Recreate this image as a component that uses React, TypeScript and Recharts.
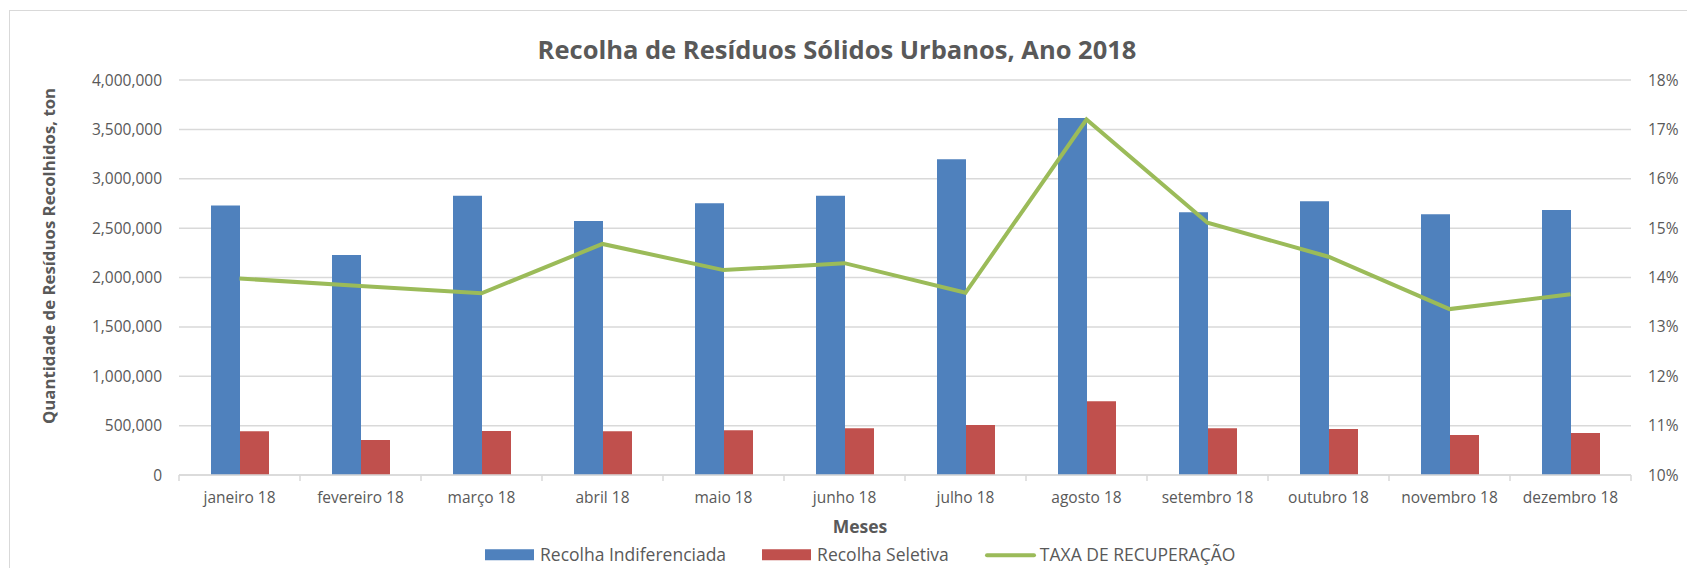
import React from "react";
import {
  ComposedChart,
  Bar,
  Line,
  XAxis,
  YAxis,
  CartesianGrid,
} from "recharts";

const months = [
  "janeiro 18",
  "fevereiro 18",
  "março 18",
  "abril 18",
  "maio 18",
  "junho 18",
  "julho 18",
  "agosto 18",
  "setembro 18",
  "outubro 18",
  "novembro 18",
  "dezembro 18",
];
const indiferenciada = [
  2728000, 2228000, 2829000, 2572000, 2751000, 2829000, 3197000, 3615000,
  2660000, 2771000, 2640000, 2684000,
];
const seletiva = [
  442000, 354000, 446000, 442000, 452000, 473000, 506000, 746000, 473000,
  466000, 405000, 425000,
];
const taxa = [
  13.98, 13.83, 13.68, 14.68, 14.15, 14.29, 13.69, 17.2, 15.11, 14.42, 13.36,
  13.66,
];
const leftTicks = [0, 500000, 1000000, 1500000, 2000000, 2500000, 3000000, 3500000, 4000000];
const rightTicks = [10, 11, 12, 13, 14, 15, 16, 17, 18];

const data = months.map((m, i) => ({
  month: m,
  ind: indiferenciada[i],
  sel: seletiva[i],
  taxa: taxa[i],
}));

const FONT = "'Open Sans', sans-serif";
const TXT = "#595959";
const GRID = "#D9D9D9";
const BLUE = "#4F81BD";
const RED = "#C0504D";
const GREEN = "#9BBB59";

const W = 1687;
const H = 568;
const PLOT_LEFT = 179;
const PLOT_RIGHT = 1631;
const PLOT_TOP = 80;
const PLOT_BOTTOM = 475;
const BAND = (PLOT_RIGHT - PLOT_LEFT) / months.length;

const XTick = (props: any) => {
  const { x, y, payload, index, visibleTicksCount } = props;
  const half = BAND / 2;
  return (
    <g>
      <line x1={x - half} x2={x - half} y1={PLOT_BOTTOM} y2={PLOT_BOTTOM + 6} stroke={GRID} strokeWidth={1.5} />
      {index === visibleTicksCount - 1 ? (
        <line x1={x + half} x2={x + half} y1={PLOT_BOTTOM} y2={PLOT_BOTTOM + 6} stroke={GRID} strokeWidth={1.5} />
      ) : null}
      <text
        x={x}
        y={y}
        dy="0.71em"
        textAnchor="middle"
        fill={TXT}
        style={{ fontFamily: FONT, fontSize: 15.5 }}
      >
        {payload.value}
      </text>
    </g>
  );
};

export default function App() {
  const leftAxisW = 100;
  const rightAxisW = 50;
  const xAxisH = 40;
  return (
    <div
      style={{
        position: "fixed",
        left: 0,
        top: 0,
        width: W,
        height: H,
        overflow: "hidden",
        background: "#fff",
        fontFamily: FONT,
      }}
    >
      <div
        style={{
          position: "absolute",
          left: 9,
          top: 10,
          width: W - 9,
          height: H - 10,
          borderTop: "1.5px solid #D9D9D9",
          borderLeft: "1.5px solid #D9D9D9",
          boxSizing: "border-box",
        }}
      />
      <div
        style={{
          position: "absolute",
          left: 837,
          top: 50,
          transform: "translate(-50%, -50%)",
          whiteSpace: "nowrap",
          fontSize: 25.5,
          fontWeight: 700,
          color: TXT,
          lineHeight: 1,
        }}
      >
        Recolha de Resíduos Sólidos Urbanos, Ano 2018
      </div>
      <div
        style={{
          position: "absolute",
          left: 49,
          top: 256,
          transform: "translate(-50%, -50%) rotate(-90deg)",
          whiteSpace: "nowrap",
          fontSize: 16.8,
          fontWeight: 700,
          color: TXT,
          lineHeight: 1,
        }}
      >
        Quantidade de Resíduos Recolhidos, ton
      </div>
      <div
        style={{
          position: "absolute",
          left: 860,
          top: 527,
          transform: "translate(-50%, -50%)",
          whiteSpace: "nowrap",
          fontSize: 17.5,
          fontWeight: 700,
          color: TXT,
          lineHeight: 1,
        }}
      >
        Meses
      </div>
      <div
        style={{
          position: "absolute",
          left: 485,
          top: 555,
          transform: "translateY(-50%)",
          display: "flex",
          alignItems: "center",
          whiteSpace: "nowrap",
          fontSize: 17.5,
          color: TXT,
          lineHeight: 1,
        }}
      >
        <span style={{ display: "inline-block", width: 49, height: 11, background: BLUE, marginRight: 6 }} />
        <span style={{ marginRight: 36 }}>Recolha Indiferenciada</span>
        <span style={{ display: "inline-block", width: 49, height: 11, background: RED, marginRight: 6 }} />
        <span style={{ marginRight: 36 }}>Recolha Seletiva</span>
        <span style={{ display: "inline-block", width: 51, height: 4, borderRadius: 2, background: GREEN, marginRight: 4 }} />
        <span>TAXA DE RECUPERAÇÃO</span>
      </div>
      <div style={{ position: "absolute", left: 0, top: 0, width: W, height: H, overflow: "hidden" }}>
        <ComposedChart
          width={W}
          height={H}
          data={data}
          accessibilityLayer={false}
          style={{ outline: "none" }}
          margin={{
            top: PLOT_TOP,
            left: PLOT_LEFT - leftAxisW,
            right: W - PLOT_RIGHT - rightAxisW,
            bottom: H - PLOT_BOTTOM - xAxisH,
          }}
          barGap={0}
        >
          <CartesianGrid vertical={false} stroke={GRID} strokeWidth={1.5} yAxisId="left" />
          <XAxis
            dataKey="month"
            height={xAxisH}
            axisLine={{ stroke: GRID, strokeWidth: 1.5 }}
            tickLine={false}
            tickSize={0}
            tickMargin={17}
            interval={0}
            tick={<XTick />}
          />
          <YAxis
            yAxisId="left"
            width={leftAxisW}
            domain={[0, 4000000]}
            ticks={leftTicks}
            axisLine={false}
            tickLine={false}
            tickSize={0}
            tickMargin={17}
            tickFormatter={(v: number) => v.toLocaleString("en-US")}
            tick={{ fill: TXT, fontSize: 15.5, fontFamily: FONT }}
          />
          <YAxis
            yAxisId="right"
            orientation="right"
            width={rightAxisW}
            domain={[10, 18]}
            ticks={rightTicks}
            axisLine={false}
            tickLine={false}
            tickSize={0}
            tickMargin={17}
            tickFormatter={(v: number) => `${v}%`}
            tick={{ fill: TXT, fontSize: 15.5, fontFamily: FONT }}
          />
          <Bar yAxisId="left" dataKey="ind" name="Recolha Indiferenciada" fill={BLUE} barSize={29} isAnimationActive={false} />
          <Bar yAxisId="left" dataKey="sel" name="Recolha Seletiva" fill={RED} barSize={29} isAnimationActive={false} />
          <Line
            yAxisId="right"
            dataKey="taxa"
            name="TAXA DE RECUPERAÇÃO"
            type="linear"
            stroke={GREEN}
            strokeWidth={4}
            dot={false}
            activeDot={false}
            isAnimationActive={false}
          />
        </ComposedChart>
      </div>
    </div>
  );
}
